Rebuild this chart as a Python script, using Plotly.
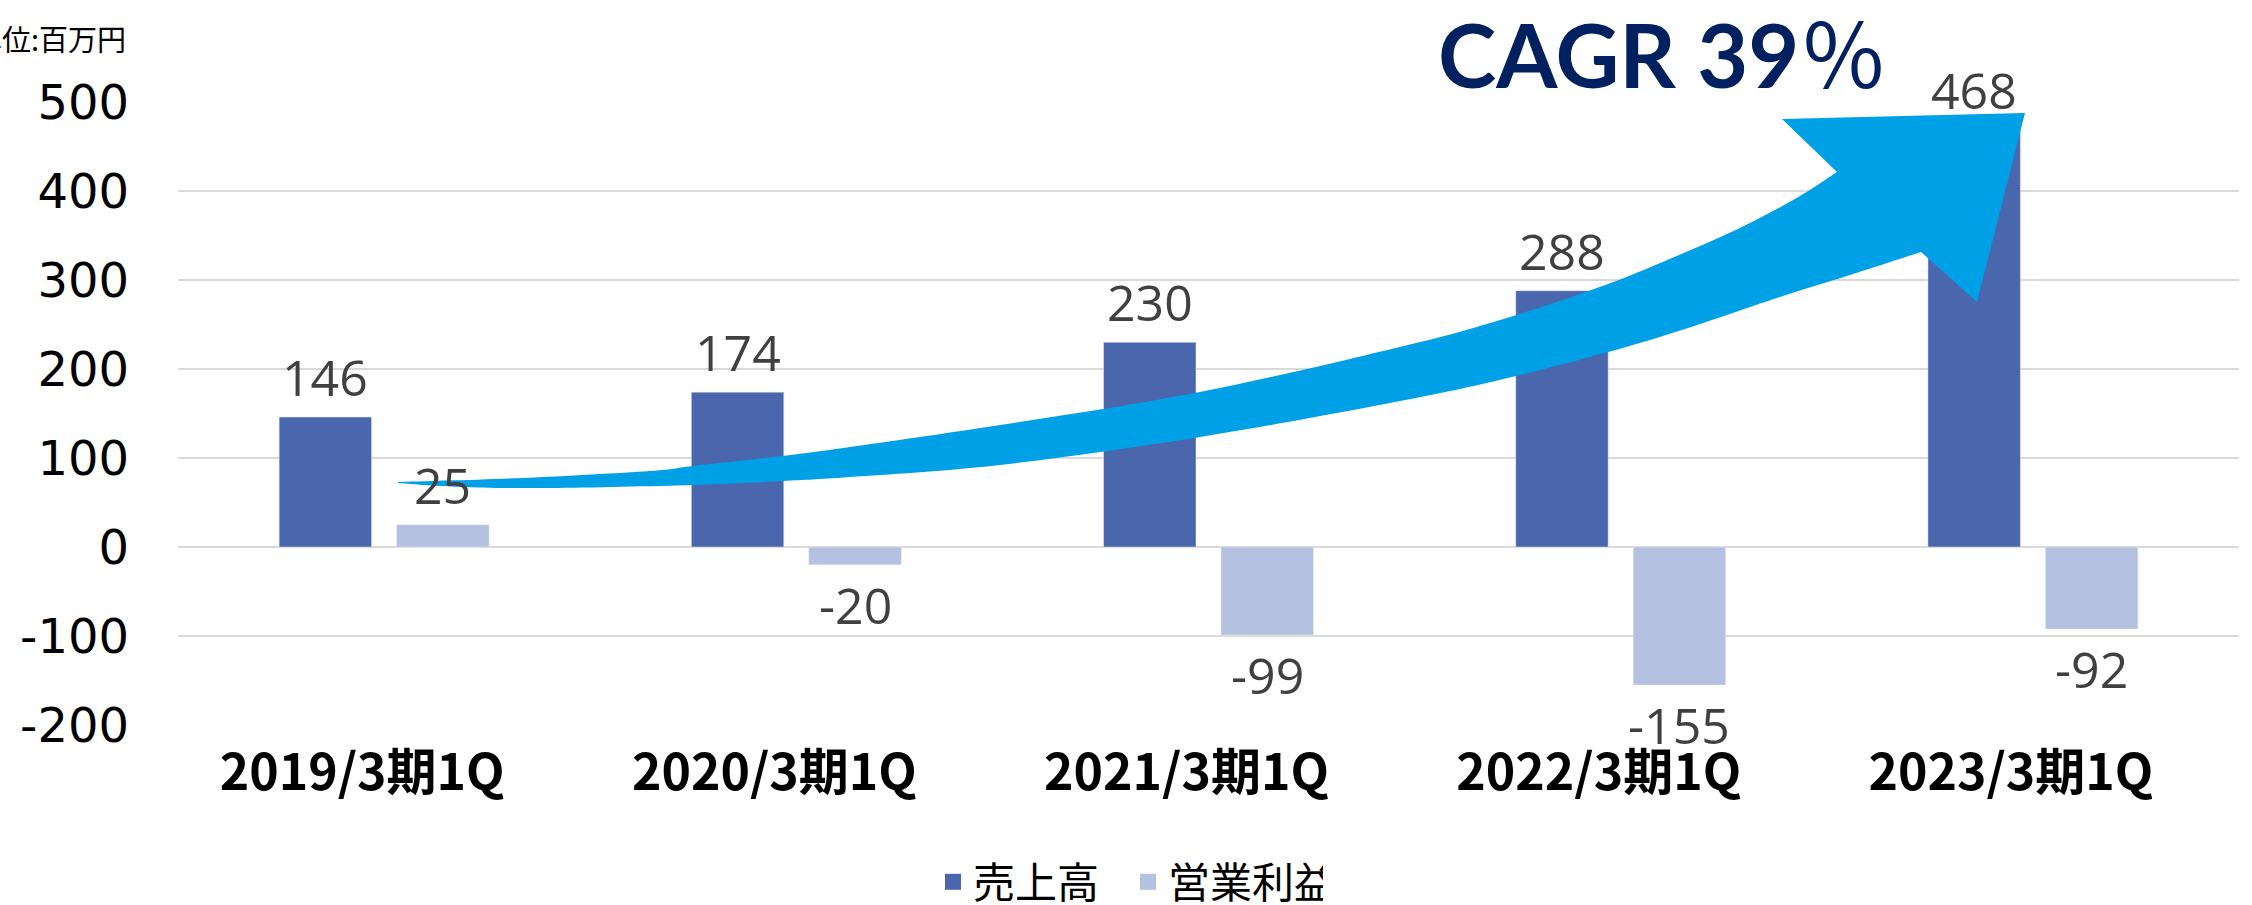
import plotly.graph_objects as go

# ---------------- data ----------------
categories = ["2019/3期1Q", "2020/3期1Q", "2021/3期1Q", "2022/3期1Q", "2023/3期1Q"]
sales = [146, 174, 230, 288, 468]
op_profit = [25, -20, -99, -155, -92]
series_names = ["売上高", "営業利益"]
y_ticks = [-200, -100, 0, 100, 200, 300, 400, 500]
unit_text = "単位:百万円"
cagr_text = "<b>CAGR 39</b><span style='font-family:Noto Sans CJK JP'>％</span>"

# ---------------- style ----------------
W, H = 2252, 905
M_L, M_R, M_T, M_B = 178, 13, 102, 180
PLOT_W = W - M_L - M_R
PLOT_H = H - M_T - M_B
BARGAP = 0.43
BARGROUPGAP = 0.213
C_SALES = "#4A66AC"
C_PROFIT = "#B4C1E0"
C_ARROW = "#00A0E6"
C_GRID = "#D9D9D9"
LABEL_FONT = dict(family="Open Sans, Noto Sans", size=50, color="#404040", weight=400)

cat_w = PLOT_W / len(categories)
slot = (1 - BARGAP) * cat_w / 2
offsets = [-slot / 2, slot / 2]


def px2paper(px, py):
    return ((px - M_L) / PLOT_W, (H - M_B - py) / PLOT_H)


def smooth(points):
    """Catmull-Rom through points -> cubic bezier path commands (without the initial M)."""
    cmds = []
    n = len(points)
    for i in range(n - 1):
        p0 = points[i - 1] if i > 0 else points[i]
        p1 = points[i]
        p2 = points[i + 1]
        p3 = points[i + 2] if i + 2 < n else points[i + 1]
        c1 = (p1[0] + (p2[0] - p0[0]) / 6, p1[1] + (p2[1] - p0[1]) / 6)
        c2 = (p2[0] - (p3[0] - p1[0]) / 6, p2[1] - (p3[1] - p1[1]) / 6)
        a = px2paper(*c1)
        b = px2paper(*c2)
        c = px2paper(*p2)
        cmds.append(f"C{a[0]:.5f},{a[1]:.5f} {b[0]:.5f},{b[1]:.5f} {c[0]:.5f},{c[1]:.5f}")
    return " ".join(cmds)


# decorative arrow outline (pixel positions of the drawing)
arrow_upper = [(398, 482), (523, 478), (650, 471), (693, 466), (782, 456), (850, 447),
               (1000, 425), (1200, 392), (1400, 347), (1500, 320), (1608, 284),
               (1700, 246), (1750, 223), (1800, 196), (1837, 172)]
arrow_head = [(1782, 119), (2025, 113), (1977, 302), (1921, 252)]
arrow_lower = [(1921, 252), (1850, 275), (1780, 297), (1650, 340), (1516, 376),
               (1400, 401), (1200, 437), (1000, 465), (850, 477), (782, 481),
               (693, 485), (550, 488), (460, 487), (398, 483)]

s = px2paper(*arrow_upper[0])
path = f"M{s[0]:.5f},{s[1]:.5f} " + smooth(arrow_upper)
for p in arrow_head:
    q = px2paper(*p)
    path += f" L{q[0]:.5f},{q[1]:.5f}"
path += " " + smooth(arrow_lower) + " Z"

fig = go.Figure()
fig.add_trace(go.Bar(x=categories, y=sales, name=series_names[0], marker_color=C_SALES,
                     showlegend=False))
fig.add_trace(go.Bar(x=categories, y=op_profit, name=series_names[1], marker_color=C_PROFIT,
                     showlegend=False))
# legend entries with larger square swatches
for nm, col in zip(series_names, [C_SALES, C_PROFIT]):
    fig.add_trace(go.Scatter(x=[None], y=[None], mode="markers", name=nm,
                             marker=dict(symbol="square", size=16, color=col),
                             showlegend=True, hoverinfo="skip"))

annotations = []
for vals, off in zip([sales, op_profit], offsets):
    for c, v in zip(categories, vals):
        annotations.append(dict(
            x=c, y=v, xref="x", yref="y", text=str(v), showarrow=False,
            xshift=off, yshift=40 if v >= 0 else -40, yanchor="middle",
            font=LABEL_FONT))

ux, uy = px2paper(128, 38)
annotations.append(dict(x=ux, y=uy, xref="paper", yref="paper", text=unit_text,
                        showarrow=False, xanchor="right", yanchor="middle",
                        font=dict(family="Noto Sans CJK JP", size=29, color="#000000")))
cx, cy = px2paper(1662, 50)
annotations.append(dict(x=cx, y=cy, xref="paper", yref="paper", text=cagr_text,
                        showarrow=False, xanchor="center", yanchor="middle",
                        font=dict(family="Lato, Noto Sans CJK JP", size=88, color="#002060")))

lx, ly = px2paper(933, 882)
fig.update_layout(
    width=W, height=H,
    margin=dict(l=M_L, r=M_R, t=M_T, b=M_B, autoexpand=False),
    paper_bgcolor="white", plot_bgcolor="white",
    barmode="group", bargap=BARGAP, bargroupgap=BARGROUPGAP,
    showlegend=True,
    legend=dict(orientation="h", x=lx, y=ly, xanchor="left", yanchor="middle",
                font=dict(family="Noto Sans CJK JP", size=42, color="#000000"),
                entrywidth=150, entrywidthmode="pixels",
                bgcolor="rgba(0,0,0,0)"),
    annotations=annotations,
    shapes=[dict(type="path", xref="paper", yref="paper", path=path,
                 fillcolor=C_ARROW, line=dict(width=0), layer="above")],
    xaxis=dict(showgrid=False, showline=False, zeroline=False,
               tickfont=dict(family="Noto Sans CJK JP", size=50, color="#000000", weight="bold"),
               ticklabelstandoff=14, ticklabelshift=-22),
    yaxis=dict(range=[-200, 500], tickvals=y_ticks, ticktext=[str(v) for v in y_ticks],
               showgrid=True, gridcolor=C_GRID,
               gridwidth=2, zeroline=False, showline=False,
               tickfont=dict(family="DejaVu Sans", size=48, color="#000000"),
               ticklabelstandoff=48),
)

fig.write_html("out.html", config={"displayModeBar": False},
               post_script="document.body.style.margin='0';document.body.style.overflow='hidden';")
